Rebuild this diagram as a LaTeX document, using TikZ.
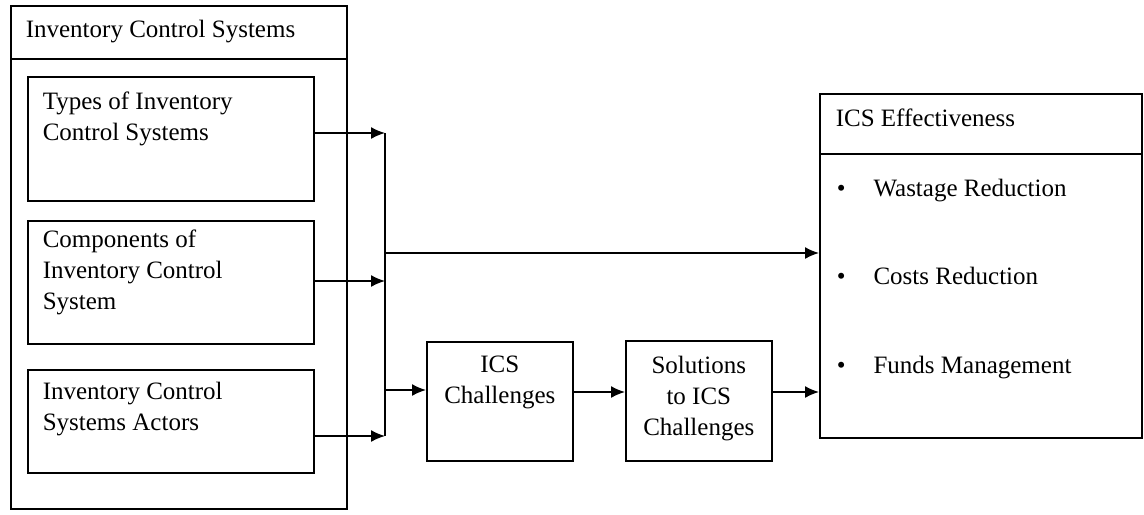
\documentclass[tikz,border=0pt]{standalone}
\usepackage{fontspec}
\setmainfont{Liberation Serif}
\usetikzlibrary{arrows.meta}
\tikzset{
  box/.style={draw, line width=0.8pt, anchor=north west, inner sep=0pt},
  txt/.style={anchor=north west, inner sep=0pt, align=left},
  ctxt/.style={anchor=north, inner sep=0pt, align=center},
  arr/.style={-{Latex[length=7pt,width=6pt]}},
}
\begin{document}
\begin{tikzpicture}[x=0.5pt,y=-0.5pt,line width=0.8pt,
		every node/.append style={font=\fontsize{12.5}{15.5}\selectfont}]
		\useasboundingbox (0,0) rectangle (1144,514);
		% left column
		\node[box, minimum width=168pt, minimum height=251.5pt] (ics) at (10,5) {};
		\draw (ics.north west |- 0,59) -- (ics.north east |- 0,59);
		\node[txt] (icst) at (25,19) {Inventory Control Systems};
		\node[box, minimum width=143pt, minimum height=62pt] (types) at (27,76) {};
		\node[txt] (typest) at (42,91) {Types of Inventory\\Control Systems};
		\node[box, minimum width=143pt, minimum height=61.5pt] (comp) at (27,220) {};
		\node[txt] (compt) at (42,229) {Components of\\Inventory Control\\System};
		\node[box, minimum width=143pt, minimum height=51.5pt] (act) at (27,369) {};
		\node[txt] (actt) at (42,381) {Inventory Control\\Systems Actors};
		% middle
		\node[box, minimum width=73pt, minimum height=59.5pt] (chal) at (426,341) {};
		\node[ctxt] (chalt) at (chal.north |- 0,355) {ICS\\Challenges};
		\node[box, minimum width=73pt, minimum height=60pt] (sol) at (625,340) {};
		\node[ctxt] (solt) at (sol.north |- 0,355) {Solutions\\to ICS\\Challenges};
		% right
		\node[box, minimum width=161pt, minimum height=172pt] (eff) at (819,93) {};
		\draw (eff.north west |- 0,154) -- (eff.north east |- 0,154);
		\node[txt] (efft) at (835,108) {ICS Effectiveness};
		\node[anchor=base west, inner sep=0pt] (w) at (836,196) {\textbullet\hspace{14pt}Wastage Reduction};
		\node[anchor=base west, inner sep=0pt] (c) at (836,284) {\textbullet\hspace{14pt}Costs Reduction};
		\node[anchor=base west, inner sep=0pt] (f) at (836,373) {\textbullet\hspace{14pt}Funds Management};
		% connectors
		\coordinate (j1) at (385,133);
		\coordinate (j2) at (385,281);
		\coordinate (j3) at (385,436);
		\coordinate (jm) at (385,253);
		\coordinate (jc) at (385,390);
		\coordinate (jr) at (385,392);
		\draw[arr] (types.east |- j1) -- (j1);
		\draw[arr] (comp.east |- j2) -- (j2);
		\draw[arr] (act.east |- j3) -- (j3);
		\draw (j1) -- (j3);
		\draw[arr] (jm) -- (jm -| eff.west);
		\draw[arr] (jc) -- (jc -| chal.west);
		\draw[arr] (chal.east |- jr) -- (sol.west |- jr);
		\draw[arr] (sol.east |- jr) -- (eff.west |- jr);
	\end{tikzpicture}
\end{document}
